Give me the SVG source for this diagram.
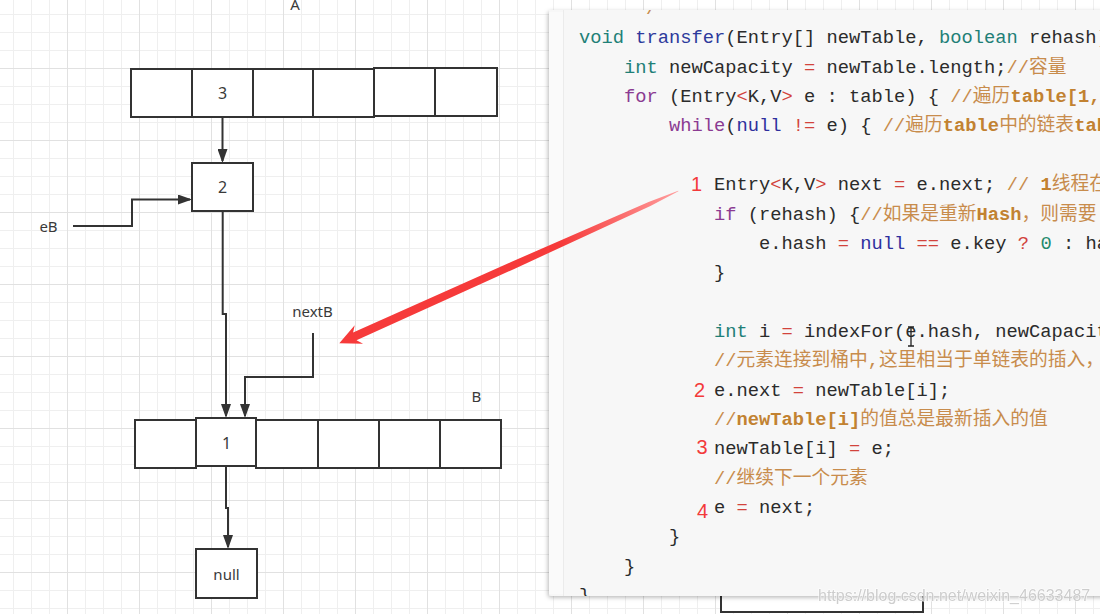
<svg xmlns="http://www.w3.org/2000/svg" width="1100" height="614" viewBox="0 0 1100 614">
<style>
.box{fill:#fff;stroke:#333;stroke-width:2}
.ln{fill:none;stroke:#333;stroke-width:2}
.lbl{font-family:"Noto Sans","Liberation Sans",sans-serif;font-size:15px;fill:#3a3a3a;text-anchor:middle}
.dig{font-size:16px}
.code{font-family:"Liberation Mono","DejaVu Sans Mono","Noto Sans CJK SC",monospace;font-size:18.75px;fill:#2b2b2b}
.k{fill:#1f8077}
.p{fill:#8b3b92}
.f{fill:#2d3a9c}
.n{fill:#2e2f9e}
.o{fill:#d2433c}
.num{fill:#1f8a6c}
.c{fill:#c88c4c}
.cb{font-weight:bold;fill:#c28231}
.red{font-family:"Liberation Sans",sans-serif;font-size:20px;fill:#f33a3a;text-anchor:middle}
</style>
<defs>
<pattern id="grid" x="13" y="14" width="72" height="72" patternUnits="userSpaceOnUse">
<path d="M0.5,0V72M18.5,0V72M36.5,0V72M0,0.5H72M0,18.5H72M0,36.5H72" stroke="#efefef" stroke-width="1" fill="none"/>
<path d="M54.5,0V72M0,54.5H72" stroke="#e1e1e1" stroke-width="1" fill="none"/>
</pattern>
<marker id="ah" markerUnits="userSpaceOnUse" markerWidth="14" markerHeight="10" refX="12" refY="5" orient="auto">
<path d="M0,0L14,5L0,10Z" fill="#333"/>
</marker>
<filter id="sh" x="-5%" y="-5%" width="110%" height="110%">
<feDropShadow dx="-1" dy="1.5" stdDeviation="2" flood-color="#000" flood-opacity="0.28"/>
</filter>
<clipPath id="pc"><rect x="549" y="10" width="551" height="586"/></clipPath>
<linearGradient id="rg" gradientUnits="userSpaceOnUse" x1="678" y1="191" x2="560" y2="244">
<stop offset="0" stop-color="#ff9d9d"/>
<stop offset="1" stop-color="#f63a3a"/>
</linearGradient>
</defs>

<rect id="background" width="1100" height="614" fill="#fff"/>
<rect id="grid-lines" width="1100" height="614" fill="url(#grid)"/>

<g id="array-A">
<rect class="box" x="131" y="69" width="61" height="48"/>
<rect class="box" x="192" y="69" width="61" height="48"/>
<rect class="box" x="253" y="69" width="60" height="48"/>
<rect class="box" x="313" y="69" width="61" height="48"/>
<rect class="box" x="374" y="68" width="61" height="48"/>
<rect class="box" x="435" y="68" width="62" height="48"/>
<text class="lbl dig" x="222.5" y="99">3</text>
<text class="lbl" x="295" y="10">A</text>
</g>

<g id="node-2">
<rect class="box" x="192" y="163" width="61" height="48"/>
<text class="lbl dig" x="222.5" y="193">2</text>
</g>

<g id="label-eB"><text class="lbl" x="48.5" y="232">eB</text></g>
<g id="label-nextB"><text class="lbl" x="312.5" y="317">nextB</text></g>

<g id="array-B">
<rect class="box" x="135" y="420" width="61" height="48"/>
<rect class="box" x="256" y="420" width="62" height="48"/>
<rect class="box" x="318" y="420" width="61" height="48"/>
<rect class="box" x="379" y="420" width="61" height="48"/>
<rect class="box" x="440" y="420" width="61" height="48"/>
<rect class="box" x="196" y="418" width="60" height="48"/>
<text class="lbl dig" x="226.5" y="449">1</text>
<text class="lbl" x="476.5" y="402">B</text>
</g>

<g id="node-null">
<rect class="box" x="196" y="549" width="61" height="49"/>
<text class="lbl" x="226.5" y="580">null</text>
</g>

<g id="hidden-node">
<rect class="box" x="721" y="570" width="202" height="42"/>
</g>

<g id="connectors">
<path class="ln" d="M222.5,117V161" marker-end="url(#ah)"/>
<path class="ln" d="M73,226H132V199.5H190" marker-end="url(#ah)"/>
<path class="ln" d="M222.7,211V314H226V416" marker-end="url(#ah)"/>
<path class="ln" d="M313,333V377H245V416" marker-end="url(#ah)"/>
<path class="ln" d="M226,466V508H228V547" marker-end="url(#ah)"/>
</g>

<g id="code-panel">
<rect x="549" y="10" width="560" height="586" rx="3" fill="#f7f7f7" filter="url(#sh)"/>
<rect x="549" y="12" width="14" height="582" fill="#fafafa"/>
<path d="M563.5,10V596" stroke="#ebebeb" stroke-width="1"/>
<g clip-path="url(#pc)" class="code" xml:space="preserve">
<text x="646" y="13.9" class="c">/</text>
<text x="579" y="43.3"><tspan class="k">void</tspan> <tspan class="f">transfer</tspan>(Entry[] newTable, <tspan class="k">boolean</tspan> rehash)</text>
<text x="624" y="72.7"><tspan class="k">int</tspan> newCapacity <tspan class="o">=</tspan> newTable.length;<tspan class="c">//容量</tspan></text>
<text x="624" y="102"><tspan class="p">for</tspan> (Entry<tspan class="o">&lt;</tspan>K,V<tspan class="o">&gt;</tspan> e : table) { <tspan class="c">//遍历</tspan><tspan class="cb">table[1,</tspan></text>
<text x="669" y="131.4"><tspan class="p">while</tspan>(<tspan class="n">null</tspan> <tspan class="o">!=</tspan> e) { <tspan class="c">//遍历</tspan><tspan class="cb">table</tspan><tspan class="c">中的链表</tspan><tspan class="cb">table</tspan></text>
<text x="714" y="190.1">Entry<tspan class="o">&lt;</tspan>K,V<tspan class="o">&gt;</tspan> next <tspan class="o">=</tspan> e.next; <tspan class="c">// </tspan><tspan class="cb">1</tspan><tspan class="c">线程在</tspan></text>
<text x="714" y="219.5"><tspan class="p">if</tspan> (rehash) {<tspan class="c">//如果是重新</tspan><tspan class="cb">Hash</tspan><tspan class="c">，则需要</tspan></text>
<text x="759" y="248.9">e.hash <tspan class="o">=</tspan> <tspan class="n">null</tspan> <tspan class="o">==</tspan> e.key <tspan class="o">?</tspan> <tspan class="num">0</tspan> : hash</text>
<text x="714" y="278.2">}</text>
<text x="714" y="336.9"><tspan class="k">int</tspan> i <tspan class="o">=</tspan> indexFor(e.hash, newCapacity);</text>
<text x="714" y="366.3" class="c">//元素连接到桶中,这里相当于单链表的插入，</text>
<text x="714" y="395.6">e.next <tspan class="o">=</tspan> newTable[i];</text>
<text x="714" y="425"><tspan class="c">//</tspan><tspan class="cb">newTable[i]</tspan><tspan class="c">的值总是最新插入的值</tspan></text>
<text x="714" y="454.3">newTable[i] <tspan class="o">=</tspan> e;</text>
<text x="714" y="483.7" class="c">//继续下一个元素</text>
<text x="714" y="513.1">e <tspan class="o">=</tspan> next;</text>
<text x="669" y="542.4">}</text>
<text x="624" y="571.8">}</text>
<text x="579" y="601.1">}</text>
</g>
<path d="M908,327h6M911,327v19M908,346h6" stroke="#222" stroke-width="1.3" fill="none"/>
<text class="red" x="696.5" y="191">1</text>
<text class="red" x="699.5" y="397">2</text>
<text class="red" x="702" y="454">3</text>
<text class="red" x="702.5" y="518">4</text>
</g>

<g id="red-arrow">
<polygon points="339.3,343.3 354.7,325.2 353.1,332.5 511.1,262.0 648.6,202.0 678.2,190.7 678.4,191.3 650.4,206.0 514.2,268.9 356.5,340.2 363.1,343.8" fill="url(#rg)"/>
</g>

<g id="watermark">
<text x="818" y="601" font-family="Liberation Sans, sans-serif" font-size="16" fill="#c9c9c9" stroke="#ffffff" stroke-width="1.2" paint-order="stroke" opacity="0.9">https://blog.csdn.net/weixin_46633487</text>
</g>
</svg>
